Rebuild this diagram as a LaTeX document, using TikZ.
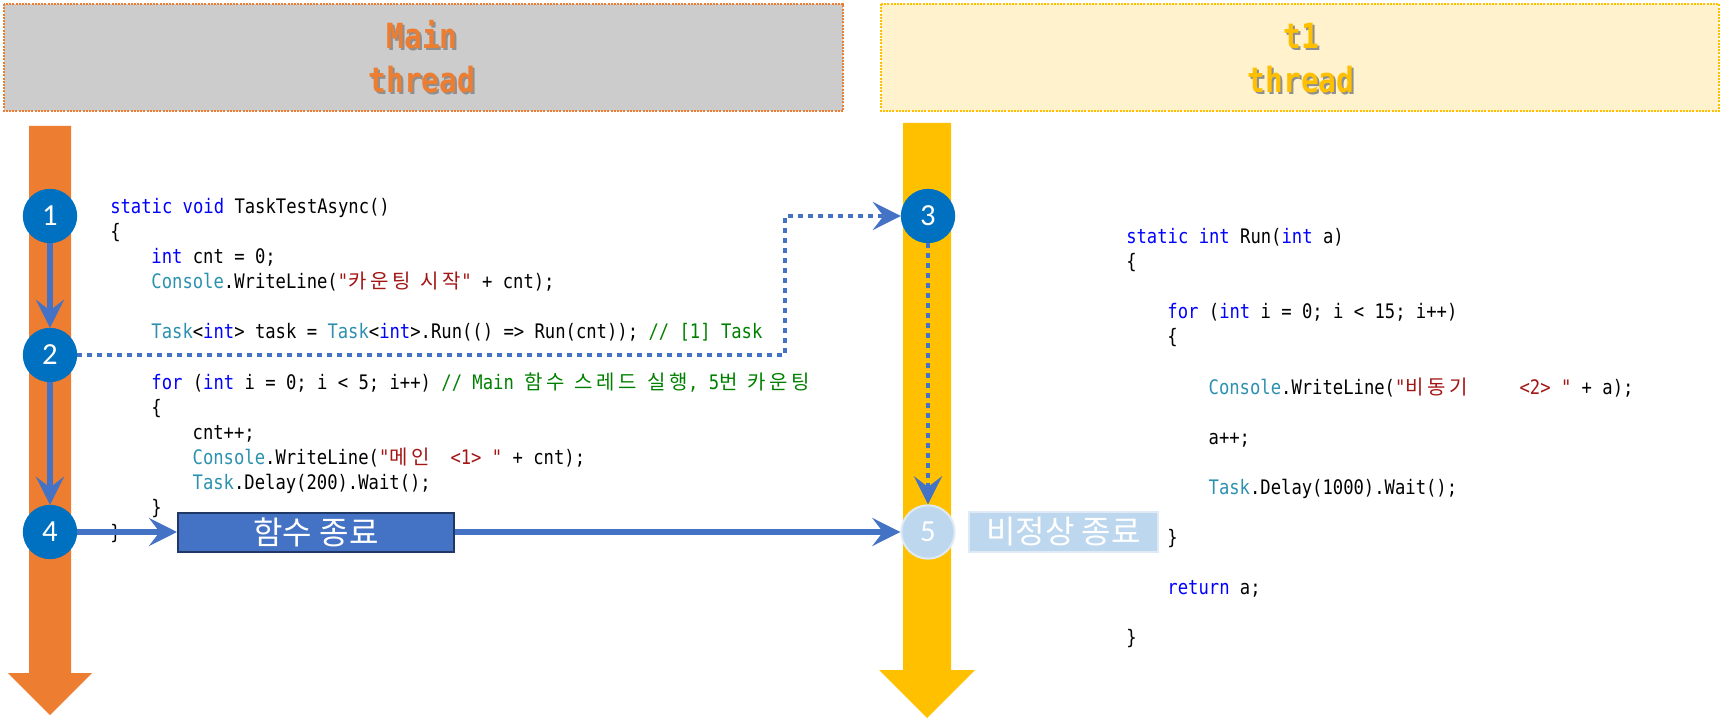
\documentclass[tikz,border=0pt]{standalone}
\usepackage{fontspec}
\usetikzlibrary{arrows.meta}
\newfontfamily\codefont[FakeStretch=0.86]{DejaVu Sans Mono}
\newfontfamily\hdrfont[FakeStretch=0.85]{DejaVu Sans Mono}
\newfontfamily\krcode[LetterSpace=18]{Noto Sans CJK KR}
\newfontfamily\krsans{Noto Sans CJK KR}
\newfontfamily\numfont{Carlito}
\definecolor{orangeA}{HTML}{ED7D31}
\definecolor{goldA}{HTML}{FFC000}
\definecolor{hdrgray}{HTML}{CCCCCC}
\definecolor{hdrcream}{HTML}{FFF2CC}
\definecolor{shadowgray}{HTML}{8F8F8F}
\definecolor{circblue}{HTML}{0070C0}
\definecolor{linkblue}{HTML}{4472C4}
\definecolor{navyA}{HTML}{1F3864}
\definecolor{paleblue}{HTML}{BDD7EE}
\definecolor{palerim}{HTML}{DEEBF7}
\definecolor{kwblue}{HTML}{0000FF}
\definecolor{tyteal}{HTML}{2B91AF}
\definecolor{strred}{HTML}{A31515}
\definecolor{cmgreen}{HTML}{008000}
\newcommand\ckw[1]{\textcolor{kwblue}{#1}}
\newcommand\cty[1]{\textcolor{tyteal}{#1}}
\newcommand\cst[1]{\textcolor{strred}{#1}}
\newcommand\ccm[1]{\textcolor{cmgreen}{#1}}
\newcommand\ckr[1]{{\krcode #1}}
\newcommand\codesetup{\codefont\fontsize{15pt}{18pt}\selectfont\frenchspacing\spaceskip=\fontcharwd\font`x\relax}
\newcommand\shadowtext[2]{\makebox[0pt][l]{\kern1.5pt\raisebox{-1.5pt}{\textcolor{shadowgray}{#2}}}\textcolor{#1}{#2}}
\tikzset{
  hdrbox/.style={line width=1.5pt, dash pattern=on 1.5pt off 0.9pt},
  hdrtext/.style={font=\hdrfont\bfseries\fontsize{26pt}{30pt}\selectfont, inner sep=0pt, anchor=base},
  codeline/.style={font=\codesetup, inner sep=0pt, anchor=base west},
  stepcirc/.style={circle, fill=circblue, draw=circblue, line width=0.75pt, minimum size=40pt, inner sep=0pt, text=white, font=\numfont\fontsize{23pt}{26pt}\selectfont},
  endcirc/.style={stepcirc, fill=paleblue, draw=palerim, line width=1.5pt},
  flowarrow/.style={draw=linkblue, line width=4.5pt, -{Stealth[length=21pt,width=21pt,inset=8pt]}},
  dotarrow/.style={flowarrow, line width=3.5pt, dash pattern=on 3.75pt off 3.75pt},
  krbox/.style={font=\krsans\fontsize{24pt}{28pt}\selectfont, text=white, inner sep=0pt}
}
\begin{document}
\begin{tikzpicture}[x=0.75pt,y=-0.75pt]
\useasboundingbox (0,0) rectangle (1721,720);
% headers
\draw[hdrbox, fill=hdrgray, draw=orangeA] (4,4) rectangle (843,111);
\draw[hdrbox, fill=hdrcream, draw=goldA] (881,4) rectangle (1719,111);
\node[hdrtext] (hm1) at (422,49) {\shadowtext{orangeA}{Main}};
\node[hdrtext] (hm2) at (422,93) {\shadowtext{orangeA}{thread}};
\node[hdrtext] (ht1) at (1301,49) {\shadowtext{goldA}{t1}};
\node[hdrtext] (ht2) at (1301,93) {\shadowtext{goldA}{thread}};
% thread arrows
\fill[orangeA] (29,126) -- (71,126) -- (71,673) -- (92,673) -- (50,715) -- (8,673) -- (29,673) -- cycle;
\fill[goldA] (903,123) -- (951,123) -- (951,670) -- (975,670) -- (927,718) -- (879,670) -- (903,670) -- cycle;
% left code
\node[codeline] (L1) at (110,214) {\ckw{static void} TaskTestAsync()};
\node[codeline] (L2) at (110,239) {\{};
\node[codeline] (L3) at (151.2,264) {\ckw{int} cnt = 0;};
\node[codeline] (L4) at (151.2,289) {\cty{Console}.WriteLine(\cst{"\ckr{카운팅} \ckr{시작}"} + cnt);};
\node[codeline] (L6) at (151.2,339) {\cty{Task}<\ckw{int}> task = \cty{Task}<\ckw{int}>.Run(() => Run(cnt)); \ccm{// [1] Task}};
\node[codeline] (L8) at (151.2,389) {\ckw{for} (\ckw{int} i = 0; i < 5; i++) \ccm{// Main \ckr{함수} \ckr{스레드} \ckr{실행}, 5\ckr{번} \ckr{카운팅}}};
\node[codeline] (L9) at (151.2,414) {\{};
\node[codeline] (L10) at (192.4,439) {cnt++;};
\node[codeline] (L11) at (192.4,464) {\cty{Console}.WriteLine(\cst{"\ckr{메인}~~<1>~"} + cnt);};
\node[codeline] (L12) at (192.4,489) {\cty{Task}.Delay(200).Wait();};
\node[codeline] (L13) at (151.2,514) {\}};
\node[codeline] (L14) at (110,539) {\}};
% right code
\node[codeline] (R1) at (1126,244) {\ckw{static int} Run(\ckw{int} a)};
\node[codeline] (R2) at (1126,269) {\{};
\node[codeline] (R3) at (1167.2,319) {\ckw{for} (\ckw{int} i = 0; i < 15; i++)};
\node[codeline] (R4) at (1167.2,344) {\{};
\node[codeline] (R5) at (1208.4,394) {\cty{Console}.WriteLine(\cst{"\ckr{비동기}~~~~~<2>~"} + a);};
\node[codeline] (R6) at (1208.4,444) {a++;};
\node[codeline] (R7) at (1208.4,494) {\cty{Task}.Delay(1000).Wait();};
\node[codeline] (R8) at (1167.2,544) {\}};
\node[codeline] (R9) at (1167.2,594) {\ckw{return} a;};
\node[codeline] (R10) at (1126,644) {\}};
% step circles and boxes
\node[stepcirc] (c1) at (50,216) {1};
\node[stepcirc] (c2) at (50,355) {2};
\node[stepcirc] (c4) at (50,532) {4};
\node[stepcirc] (c3) at (928,216) {3};
\node[endcirc] (c5) at (928,532) {5};
\node[krbox, fill=linkblue, draw=navyA, line width=1.5pt, minimum width=207pt, minimum height=29.25pt] (fbox) at (316,532) {함수 종료};
\node[krbox, fill=paleblue, draw=palerim, line width=1.5pt, minimum width=141.75pt, minimum height=30pt] (abn) at (1063.5,532) {비정상 종료};
\coordinate (bend) at (785,216);
% connectors
\draw[flowarrow] (c1) -- (c2);
\draw[flowarrow] (c2) -- (c4);
\draw[dotarrow] (c2.east) -| (bend) -- (c3.west);
\draw[dotarrow] (c3.south) -- (c5.north);
\draw[flowarrow] (c4.east) -- (fbox.west);
\draw[flowarrow] (fbox.east) -- (c5.west);
\end{tikzpicture}
\end{document}
